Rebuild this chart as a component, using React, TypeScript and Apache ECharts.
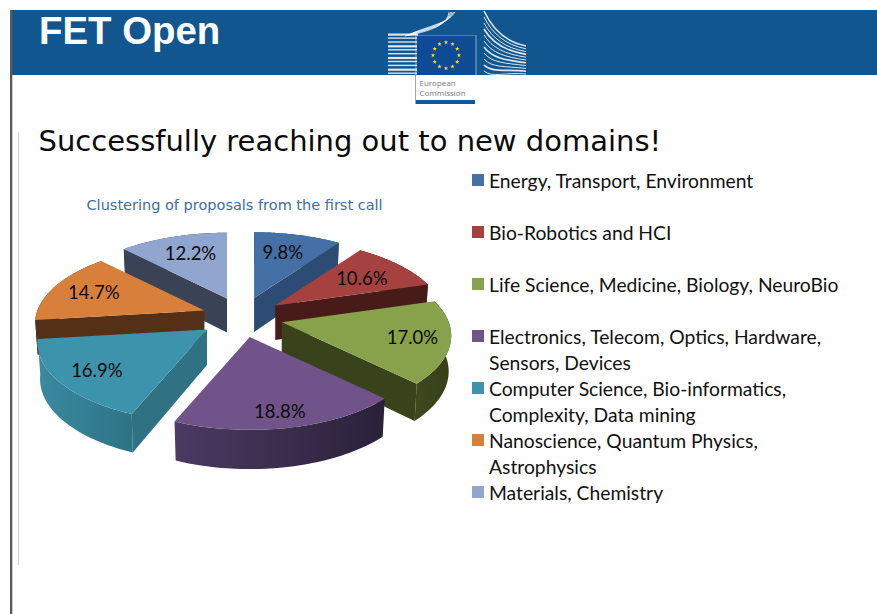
import React, { useEffect, useRef } from "react";
import * as echarts from "echarts";

const categories = [
  "Energy, Transport, Environment",
  "Bio-Robotics and HCI",
  "Life Science, Medicine, Biology, NeuroBio",
  "Electronics, Telecom, Optics, Hardware, Sensors, Devices",
  "Computer Science, Bio-informatics, Complexity, Data mining",
  "Nanoscience, Quantum Physics, Astrophysics",
  "Materials, Chemistry",
];
const legendLines = [
  ["Energy, Transport, Environment", " "],
  ["Bio-Robotics and HCI", " "],
  ["Life Science, Medicine, Biology, NeuroBio", " "],
  ["Electronics, Telecom, Optics, Hardware,", "Sensors, Devices"],
  ["Computer Science, Bio-informatics,", "Complexity, Data mining"],
  ["Nanoscience, Quantum Physics,", "Astrophysics"],
  ["Materials, Chemistry", " "],
];
const shares = [9.8, 10.6, 17.0, 18.8, 16.9, 14.7, 12.2];
const topColors = ["#4470a6", "#a5423f", "#87a24b", "#6f5389", "#3e93ac", "#d8803b", "#91a6cf"];
const sideColors = ["#2c4c74", "#471b18", "#38421b", "#3a2b4d", "#2f7283", "#553016", "#3a4255"];
const rimLeft = ["#2c4c74", "#471b18", "#3f4a1e", "#4b3a62", "#3a8aa1", "#553016", "#3a4255"];
const rimRight = ["#2c4c74", "#471b18", "#353e18", "#2b213a", "#2e7385", "#553016", "#3a4255"];
const labelNudge = [[-4, 1], [-6, 3], [4, 0], [0, 6], [1, 1], [1, 0], [4, 1]];
const apexNudge = [0, 0, 0, 0, -1.5, 2, 1];
const drawOrder = [6, 0, 1, 5, 2, 4, 3];

const CX = 241.5, CY = 317.3, EX = 41.5, EY = 20.2, RX = 167, RY = 77, PERSP = 0.17;
const total = shares.reduce((a, b) => a + b, 0);

const rad = (v: number) => (v / total) * Math.PI * 2;
const rimOffset = (t: number) => {
  const s = 1 / (1 + PERSP * Math.cos(t));
  return [RX * Math.sin(t) * s, -RY * Math.cos(t) * s];
};
const depthAt = (y: number) => 34 + (y - 298) * 0.05;
const extrude = (p: number[], a: number[]) => [a[0] + (p[0] - a[0]) * 0.985, p[1] * 0.985 + a[1] * 0.015 + depthAt(p[1])];

const wedgeRender = (index: number) => (_params: any, api: any) => {
  const value = api.value(0);
  let before = 0;
  for (let i = 0; i < index; i++) before += shares[i];
  const t0 = rad(before);
  const t1 = rad(before + value);
  const m = (t0 + t1) / 2;
  const apex = [CX + EX * Math.sin(m) + apexNudge[index], CY - EY * Math.cos(m)];
  const steps = 48;
  const rim: number[][] = [];
  for (let i = 0; i <= steps; i++) {
    const off = rimOffset(t0 + ((t1 - t0) * i) / steps);
    rim.push([apex[0] + off[0], apex[1] + off[1]]);
  }
  const bottomRim = rim.map((p) => extrude(p, apex));
  const apexLow = [apex[0], apex[1] + depthAt(apex[1])];
  const children: any[] = [];
  children.push({
    type: "polygon",
    shape: { points: [...rim, ...[...bottomRim].reverse()] },
    style: {
      fill: new echarts.graphic.LinearGradient(0, 0, 1, 0, [
        { offset: 0, color: rimLeft[index] },
        { offset: 1, color: rimRight[index] },
      ]),
    },
  });
  if (Math.sin(t0) < -0.001) {
    children.push({
      type: "polygon",
      shape: { points: [apex, rim[0], bottomRim[0], apexLow] },
      style: { fill: sideColors[index] },
    });
  }
  if (Math.sin(t1) > 0.001) {
    children.push({
      type: "polygon",
      shape: { points: [apex, rim[steps], bottomRim[steps], apexLow] },
      style: { fill: sideColors[index] },
    });
  }
  children.push({
    type: "polygon",
    shape: { points: [apex, ...rim] },
    style: { fill: topColors[index] },
  });
  const lab = rimOffset(m);
  children.push({
    type: "text",
    style: {
      text: value.toFixed(1) + "%",
      x: apex[0] + lab[0] * 0.75 + labelNudge[index][0],
      y: apex[1] + lab[1] * 0.75 + labelNudge[index][1],
      fill: "#0a0a0a",
      font: '18.5px Lato, sans-serif',
      align: "center",
      verticalAlign: "middle",
    },
  });
  return { type: "group", children };
};

const star = (cx: number, cy: number, r: number) => {
  const pts: number[][] = [];
  for (let i = 0; i < 10; i++) {
    const a = -Math.PI / 2 + (i * Math.PI) / 5;
    const q = i % 2 ? r * 0.4 : r;
    pts.push([cx + q * Math.cos(a), cy + q * Math.sin(a)]);
  }
  return pts;
};

const logoGraphics = () => {
  const els: any[] = [];
  for (let i = 0; i < 11; i++) {
    els.push({
      type: "rect",
      shape: { x: 388, y: 33.5 + i * 3.9, width: 30, height: i % 3 === 0 ? 2.2 : 1.4 },
      style: { fill: "#ffffff", opacity: 0.85 },
    });
  }
  for (let i = 0; i < 5; i++) {
    els.push({
      type: "bezierCurve",
      shape: { x1: 405 + i * 2, y1: 36 - i * 0.8, cpx1: 438 + i, cpy1: 30 - i * 2, cpx2: 448, cpy2: 22, x2: 449 + i * 1.5, y2: 12 },
      style: { stroke: "#ffffff", lineWidth: 1, fill: "none", opacity: 0.75 },
    });
  }
  for (let i = 0; i < 11; i++) {
    els.push({
      type: "bezierCurve",
      shape: { x1: 484, y1: 11 + i * 6, cpx1: 492, cpy1: 28 + i * 5, cpx2: 505, cpy2: 42 + i * 3, x2: 526, y2: 46 + i * 2.8 },
      style: { stroke: "#ffffff", lineWidth: i % 3 === 0 ? 1.6 : 1, fill: "none", opacity: 0.85 },
    });
  }
  els.push({ type: "rect", shape: { x: 415, y: 35, width: 62, height: 71 }, style: { fill: "#ffffff", opacity: 0.25 } });
  els.push({ type: "rect", shape: { x: 416, y: 75, width: 60, height: 29 }, style: { fill: "#ffffff" } });
  els.push({ type: "rect", shape: { x: 415, y: 75, width: 1, height: 29 }, style: { fill: "#a8a8a8" } });
  els.push({ type: "rect", shape: { x: 417, y: 36, width: 58, height: 39 }, style: { fill: "#0f4a94" } });
  els.push({ type: "rect", shape: { x: 416, y: 100, width: 59, height: 4 }, style: { fill: "#12569a" } });
  for (let i = 0; i < 12; i++) {
    const a = (i * Math.PI) / 6;
    els.push({
      type: "polygon",
      shape: { points: star(446 + 13 * Math.sin(a), 55.3 - 13 * Math.cos(a), 2.3) },
      style: { fill: "#ffe600" },
    });
  }
  els.push({ type: "text", style: { text: "European", x: 419.5, y: 82, fill: "#777", font: "8px 'Open Sans', sans-serif", verticalAlign: "middle" } });
  els.push({ type: "text", style: { text: "Commission", x: 419.5, y: 92, fill: "#777", font: "8px 'Open Sans', sans-serif", verticalAlign: "middle" } });
  return els;
};

export default function App() {
  const ref = useRef<HTMLDivElement>(null);
  useEffect(() => {
    if (!ref.current) return;
    const chart = echarts.init(ref.current, undefined, { renderer: "svg" });
    chart.setOption({
      animation: false,
      backgroundColor: "#ffffff",
      title: [
        { text: "FET Open", left: 39, top: 8, padding: 0, textStyle: { color: "#ffffff", fontFamily: "'Liberation Sans', sans-serif", fontWeight: "bold", fontSize: 38.4, lineHeight: 44 } },
        { text: "Successfully reaching out to new domains!", left: 38.5, top: 123, padding: 0, textStyle: { color: "#0a0a0a", fontFamily: "'DejaVu Sans', sans-serif", fontWeight: "normal", fontSize: 29, lineHeight: 36 } },
        { text: "Clustering of proposals from the first call", left: 86.5, top: 196, padding: 0, textStyle: { color: "#3b6ea8", fontFamily: "'DejaVu Sans', sans-serif", fontWeight: "normal", fontSize: 14.5, lineHeight: 18 } },
      ],
      graphic: { elements: [
        { type: "rect", z: -10, shape: { x: 12, y: 10, width: 865, height: 65 }, style: { fill: "#11568f" } },
        { type: "rect", z: -10, shape: { x: 10, y: 10, width: 2.3, height: 604 }, style: { fill: "#5a5a5a" } },
        { type: "rect", z: -10, shape: { x: 18, y: 132, width: 1, height: 433 }, style: { fill: "#d0d0d0" } },
        ...logoGraphics(),
      ] },
      legend: {
        data: categories.map((name) => ({ name, icon: "rect" })),
        orient: "vertical",
        left: 472,
        top: 141,
        padding: 0,
        itemGap: -26,
        itemWidth: 12,
        itemHeight: 12,
        selectedMode: false,
        formatter: (name: string) => {
          const l = legendLines[categories.indexOf(name)];
          return "\n" + l[0] + "\n" + l[1];
        },
        textStyle: { color: "#111111", fontFamily: "Lato, sans-serif", fontSize: 19.3, lineHeight: 26 },
      },
      series: drawOrder.map((index) => ({
        type: "custom",
        name: categories[index],
        coordinateSystem: "none",
        itemStyle: { color: topColors[index] },
        data: [[shares[index]]],
        renderItem: wedgeRender(index),
      })),
    });
    return () => chart.dispose();
  }, []);
  return <div ref={ref} style={{ position: "absolute", left: 0, top: 0, width: 877, height: 614 }} />;
}
